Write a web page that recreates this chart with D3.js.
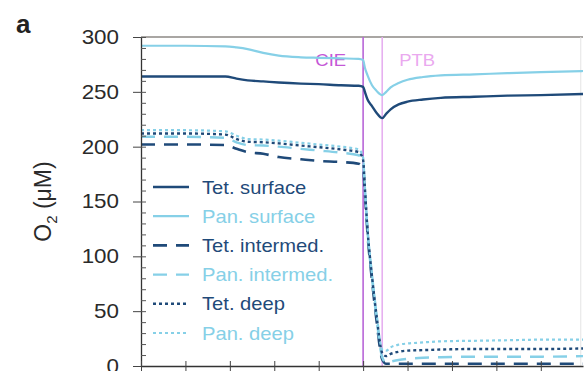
<!DOCTYPE html>
<html>
<head>
<meta charset="utf-8">
<script src="https://cdn.jsdelivr.net/npm/d3@7"></script>
<style>
  body { margin: 0; background: #fff; }
  svg { display: block; font-family: "Liberation Sans", Arial, sans-serif; }
</style>
</head>
<body>
<div id="chart"></div>
<script>
// model time (axis units), shared by all series
const time = [0, 1, 1.9, 2.15, 2.4, 2.75, 3.1, 3.6, 4.0, 4.5, 4.9, 5.0, 5.04, 5.1, 5.2, 5.3, 5.43,
  5.52, 5.62, 5.8, 6.0, 6.35, 6.75, 7.5, 8.25, 9.0, 9.95];

// O2 (uM)
const tetSurface = [264, 264, 264, 262, 260.5, 259.5, 258.5, 257.5, 257, 256, 255.5, 254.5, 250, 243, 237, 231, 226,
  230, 234, 238.5, 241, 243, 244.5, 245.5, 246.5, 247, 248];
const panSurface = [292, 292, 291.5, 290.5, 289, 285.5, 283, 281.5, 281, 280.5, 280, 279, 272, 265, 256, 251, 247,
  250, 254, 258, 261, 263.5, 265, 266, 267, 268, 269];
const tetIntermed = [202, 202, 201.5, 198, 195, 193.5, 190.5, 188.5, 187, 186, 184.5, 180, 158, 120, 78, 42, 6,
  2, 2, 2, 2, 2, 2, 2, 2, 2, 2];
const panIntermed = [209, 209, 208, 204, 201.5, 201, 200, 198, 196.5, 194.5, 192, 185, 160, 122, 80, 44, 8,
  3, 4, 5.5, 6.5, 7.5, 8, 8.5, 8.5, 8.5, 9];
const tetDeep = [212, 212, 211, 207, 204.5, 204, 203, 201, 199.5, 197.5, 195, 188, 162, 124, 82, 47, 12,
  9, 11, 13, 14, 14.5, 15, 15.5, 15.5, 15.5, 16];
const panDeep = [215, 215, 214, 210, 207, 206.5, 205.5, 203.5, 202, 200, 197.5, 190, 164, 126, 84, 49, 15,
  14, 17, 19.5, 20.5, 21.5, 22.5, 23, 23.5, 24, 24];

const seriesNames = ['Tet. surface', 'Pan. surface', 'Tet. intermed.', 'Pan. intermed.', 'Tet. deep', 'Pan. deep'];
const yTicks = [0, 50, 100, 150, 200, 250, 300];
const xTicks = [0, 1, 2, 3, 4, 5, 6, 7, 8, 9];
const events = [{ label: 'CIE', t: 5.0 }, { label: 'PTB', t: 5.43 }];

const width = 584;
const height = 371;
const margin = { top: 37, right: 1, bottom: 5, left: 141 };
const TET = '#1f4a79';
const PAN = '#86d0e7';
const SX = 1.12; // text looks horizontally stretched in the source

const svg = d3.select('#chart').append('svg')
  .attr('width', width)
  .attr('height', height);

const x = d3.scaleLinear()
  .domain([0, 9.95])
  .range([margin.left, width - margin.right]);

const y = d3.scaleLinear()
  .domain([0, 300])
  .range([height - margin.bottom, margin.top]);

// frame (top/right)
svg.append('line')
  .attr('x1', margin.left).attr('x2', width - margin.right)
  .attr('y1', y(300)).attr('y2', y(300))
  .attr('stroke', '#8c8884').attr('stroke-width', 1.5);
svg.append('line')
  .attr('x1', x(9.9)).attr('x2', x(9.9))
  .attr('y1', y(300)).attr('y2', y(0))
  .attr('stroke', '#e4e4e4').attr('stroke-width', 1);

// event lines
const evColors = ['#b866d8', '#e6b0f0'];
const evText = ['#c457d6', '#eaa9ef'];
events.forEach((e, i) => {
  svg.append('line')
    .attr('x1', x(e.t)).attr('x2', x(e.t))
    .attr('y1', y(300)).attr('y2', y(0))
    .attr('stroke', evColors[i]).attr('stroke-width', 1.6);
});

function stretchedText(sel, px, py, txt, anchor) {
  return sel.append('text')
    .attr('transform', `translate(${px},${py}) scale(${SX},1)`)
    .attr('text-anchor', anchor || 'start')
    .text(txt);
}

stretchedText(svg, x(events[0].t) - 17, 66, events[0].label, 'end')
  .attr('font-size', 16.5).attr('fill', evText[0]);
stretchedText(svg, x(events[1].t) + 17, 66, events[1].label)
  .attr('font-size', 16.5).attr('fill', evText[1]);

// series
const styles = [
  { color: TET, dash: null, w: 2.4 },
  { color: PAN, dash: null, w: 2.2 },
  { color: TET, dash: '14,9', w: 2.6 },
  { color: PAN, dash: '14,9', w: 2.4 },
  { color: TET, dash: '3,3', w: 2.4 },
  { color: PAN, dash: '3,3', w: 2.2 }
];
const seriesData = [tetSurface, panSurface, tetIntermed, panIntermed, tetDeep, panDeep];

const line = d3.line()
  .x((d, i) => x(time[i]))
  .y(d => y(d))
  .curve(d3.curveMonotoneX);

seriesData.forEach((vals, i) => {
  svg.append('path')
    .datum(vals)
    .attr('fill', 'none')
    .attr('stroke', styles[i].color)
    .attr('stroke-width', styles[i].w)
    .attr('stroke-dasharray', styles[i].dash)
    .attr('d', line);
});

// axes
svg.append('g')
  .attr('transform', `translate(${margin.left},0)`)
  .call(d3.axisLeft(y).tickValues(yTicks).tickSize(8).tickPadding(14).tickSizeOuter(0))
  .call(g => g.select('.domain').attr('stroke', '#333').attr('stroke-width', 1.3))
  .call(g => g.selectAll('.tick line').attr('stroke', '#444'))
  .call(g => g.selectAll('text')
    .attr('font-size', 20)
    .attr('fill', '#2a2a2a')
    .attr('x', -22 / SX)
    .attr('transform', `scale(${SX},1)`));

// minor ticks inside
svg.append('g')
  .attr('transform', `translate(${margin.left},0)`)
  .call(d3.axisRight(y).tickValues(d3.range(0, 301, 10)).tickSize(5).tickFormat(''))
  .call(g => g.select('.domain').remove())
  .call(g => g.selectAll('.tick line').attr('stroke', '#555'));

svg.append('g')
  .attr('transform', `translate(0,${y(0)})`)
  .call(d3.axisBottom(x).tickValues(xTicks).tickSize(6).tickFormat('').tickSizeOuter(0))
  .call(g => g.select('.domain').attr('stroke', '#333').attr('stroke-width', 1.3))
  .call(g => g.selectAll('.tick line').attr('stroke', '#444'));
svg.append('g')
  .attr('transform', `translate(0,${y(0)})`)
  .call(d3.axisTop(x).tickValues(xTicks).tickSize(5).tickFormat(''))
  .call(g => g.select('.domain').remove())
  .call(g => g.selectAll('.tick line').attr('stroke', '#444'));

// y label
const yl = svg.append('text')
  .attr('transform', `translate(51,${(y(0) + y(300)) / 2}) rotate(-90)`)
  .attr('text-anchor', 'middle')
  .attr('font-size', 23)
  .attr('fill', '#2a2a2a');
yl.append('tspan').text('O');
yl.append('tspan').attr('font-size', 15).attr('dy', 6).text('2');
yl.append('tspan').attr('dy', -6).text(' (μM)');

// panel letter
svg.append('text')
  .attr('x', 16).attr('y', 33)
  .attr('font-size', 26).attr('font-weight', 'bold')
  .attr('fill', '#222')
  .text('a');

// legend
const legend = svg.append('g');
seriesNames.forEach((name, i) => {
  const ly = 187 + i * 29.2;
  legend.append('line')
    .attr('x1', 153).attr('x2', 189)
    .attr('y1', ly).attr('y2', ly)
    .attr('stroke', styles[i].color)
    .attr('stroke-width', styles[i].w)
    .attr('stroke-dasharray', styles[i].dash);
  stretchedText(legend, 202, ly + 6.5, name)
    .attr('font-size', 18)
    .attr('fill', styles[i].color);
});
</script>
</body>
</html>
